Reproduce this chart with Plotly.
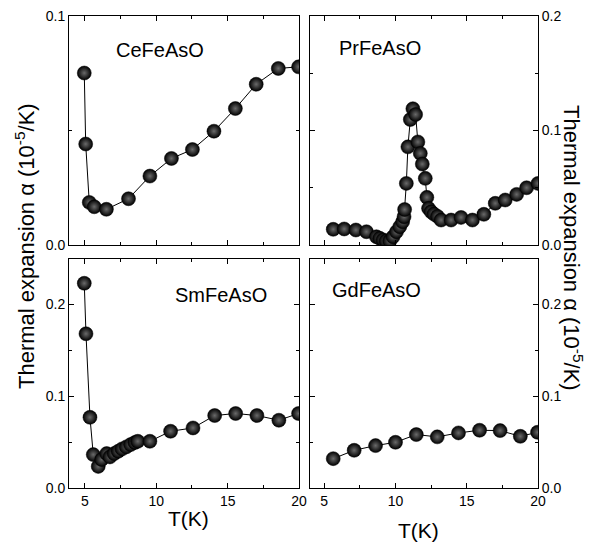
import plotly.graph_objects as go

ce_T = [4.95, 5.05, 5.3, 5.65, 6.5, 8.05, 9.55, 11.06, 12.53, 14.04, 15.54, 17.0, 18.55, 19.97]
ce_a = [0.0751, 0.0441, 0.0186, 0.0167, 0.0156, 0.0202, 0.0301, 0.0378, 0.0417, 0.0497, 0.0596, 0.0702, 0.0771, 0.0778]

pr_T = [5.63, 6.4, 7.22, 7.96, 8.66, 8.9, 9.13, 9.35, 9.6, 9.83, 10.07, 10.3, 10.5, 10.6, 10.64,
        10.76, 10.87, 11.04, 11.22, 11.41, 11.57, 11.74, 11.88, 12.09, 12.2, 12.32, 12.5, 12.7,
        12.95, 13.2, 13.9, 14.6, 15.4, 16.2, 17.0, 17.7, 18.5, 19.2, 20.0]
pr_a = [0.0137, 0.0140, 0.0131, 0.0116, 0.0072, 0.0058, 0.0044, 0.0035, 0.0035, 0.0072, 0.0116,
        0.016, 0.0203, 0.0247, 0.031, 0.0538, 0.0857, 0.1096, 0.119, 0.114, 0.090, 0.080, 0.0707,
        0.0582, 0.0416, 0.032, 0.029, 0.027, 0.025, 0.0218, 0.0218, 0.0241, 0.0218, 0.0268,
        0.0364, 0.0393, 0.0442, 0.050, 0.0538]

sm_T = [4.95, 5.07, 5.35, 5.58, 5.93, 6.17, 6.52, 6.75, 7.05, 7.33, 7.6, 7.9, 8.2, 8.5, 8.7,
        9.55, 11.0, 12.57, 14.09, 15.56, 17.05, 18.59, 19.97]
sm_a = [0.2226, 0.1677, 0.0769, 0.0363, 0.0235, 0.031, 0.0374, 0.0338, 0.0374, 0.040, 0.0425,
        0.0447, 0.0472, 0.0495, 0.0508, 0.0508, 0.0617, 0.0653, 0.0788, 0.0810, 0.0788, 0.0737, 0.081]

gd_T = [5.63, 7.1, 8.6, 10.0, 11.46, 12.93, 14.42, 15.9, 17.34, 18.76, 19.97]
gd_a = [0.0319, 0.041, 0.0461, 0.0497, 0.0581, 0.0556, 0.0599, 0.0628, 0.0624, 0.0562, 0.0606]

names = ["CeFeAsO", "PrFeAsO", "SmFeAsO", "GdFeAsO"]
series = [(ce_T, ce_a), (pr_T, pr_a), (sm_T, sm_a), (gd_T, gd_a)]

# page body has an 8px margin; compensate so the screenshot lines up
OFF = 8
W, H = 592 - OFF, 543 - OFF
FONT = "Arial, 'Liberation Sans', sans-serif"

fig = go.Figure()
for i, (tx, ay) in enumerate(series):
    suf = "" if i == 0 else str(i + 1)
    fig.add_trace(go.Scatter(
        x=tx, y=ay, mode="lines+markers", xaxis="x" + suf, yaxis="y" + suf,
        line=dict(color="black", width=1),
        marker=dict(size=14, color="#000000",
                    gradient=dict(type="radial", color="#6a6a6a"),
                    line=dict(width=0.5, color="#000000")),
        showlegend=False, name=names[i]))

def px_x(p):
    return (p - OFF) / W

def px_y(p):
    return 1 - (p - OFF) / H

xdom_left = [px_x(69), px_x(299)]
xdom_right = [px_x(310), px_x(538)]
ydom_top = [px_y(245), px_y(16)]
ydom_bot = [px_y(488), px_y(259)]

common = dict(showline=True, linecolor="black", linewidth=1, mirror="ticks",
              ticks="inside", ticklen=5, tickcolor="black", tickwidth=1,
              showgrid=False, zeroline=False, automargin=False,
              ticklabeloverflow="allow",
              tickfont=dict(family=FONT, size=14, color="black"))

def xax(dom, rng, anchor, labels):
    return dict(common, domain=dom, range=rng, anchor=anchor,
                tick0=5, dtick=5, showticklabels=labels,
                minor=dict(ticks="inside", ticklen=3, dtick=2.5, tick0=5, tickcolor="black"))

def yax(dom, rng, anchor, side, major):
    return dict(common, domain=dom, range=rng, anchor=anchor, side=side,
                tick0=0, dtick=major, tickformat=".1f",
                minor=dict(ticks="inside", ticklen=3, dtick=0.05, tick0=0, tickcolor="black"))

fig.update_layout(
    template="none",
    width=W, height=H, margin=dict(l=0, r=0, t=0, b=0, pad=0),
    paper_bgcolor="white", plot_bgcolor="white",
    font=dict(family=FONT, color="black"),
    xaxis=xax(xdom_left, [3.88, 20], "y", False),
    yaxis=yax(ydom_top, [0, 0.1], "x", "left", 0.1),
    xaxis2=xax(xdom_right, [4.0, 20], "y2", False),
    yaxis2=yax(ydom_top, [0, 0.2], "x2", "right", 0.1),
    xaxis3=xax(xdom_left, [3.88, 20], "y3", True),
    yaxis3=yax(ydom_bot, [0, 0.249], "x3", "left", 0.1),
    xaxis4=xax(xdom_right, [4.0, 20], "y4", True),
    yaxis4=yax(ydom_bot, [0, 0.249], "x4", "right", 0.1),
)

title = "Thermal expansion α (10<sup>-5</sup>/K)"

def note(text, x, y, size, angle=0):
    return dict(text=text, x=px_x(x), y=px_y(y), xref="paper", yref="paper",
                xanchor="center", yanchor="middle", showarrow=False, textangle=angle,
                font=dict(family=FONT, size=size, color="black"))

annotations = [
    note("CeFeAsO", 160, 50, 20),
    note("PrFeAsO", 380, 48, 20),
    note("SmFeAsO", 221, 295, 20),
    note("GdFeAsO", 376, 290, 20),
    note("T(K)", 188, 518, 21),
    note("T(K)", 418, 530, 21),
    note(title, 25, 246, 22, -90),
    note(title, 573, 248, 22, 90),
]
fig.update_layout(annotations=annotations)

fig.write_html("out.html")
